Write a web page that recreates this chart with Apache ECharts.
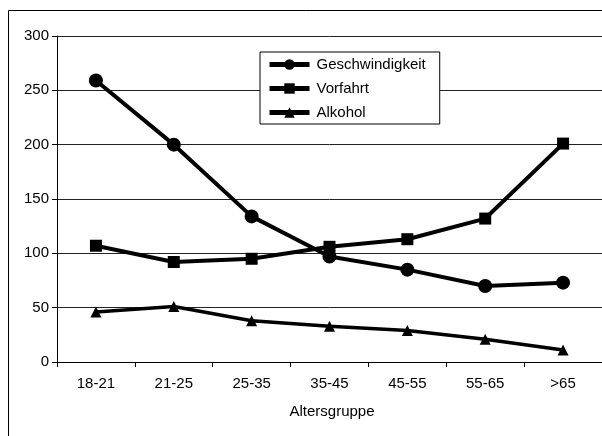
<!DOCTYPE html>
<html>
<head>
<meta charset="utf-8">
<style>
  html, body { margin: 0; padding: 0; background: #fff; }
  #chart { width: 602px; height: 436px; }
</style>
<script src="https://cdn.jsdelivr.net/npm/echarts@6/dist/echarts.min.js"></script>
</head>
<body>
<div id="chart"></div>
<script>
// Unfallursachen nach Altersgruppe
const categories = ['18-21', '21-25', '25-35', '35-45', '45-55', '55-65', '>65'];
const geschwindigkeit = [259, 200, 134, 97, 85, 70, 73];
const vorfahrt = [107, 92, 95, 106, 113, 132, 201];
const alkohol = [46, 51, 38, 33, 29, 21, 11];

const FONT = '"Liberation Sans", Arial, sans-serif';
const FS = 15;

const chart = echarts.init(document.getElementById('chart'), null, { renderer: 'canvas' });

function lineSeries(name, data, symbol, size, width) {
  return {
    name: name,
    type: 'line',
    data: data,
    symbol: symbol,
    symbolSize: size,
    showAllSymbol: true,
    lineStyle: { color: '#000', width: width },
    itemStyle: { color: '#000', borderWidth: 0 },
    emphasis: { disabled: true },
    animation: false
  };
}

chart.setOption({
  animation: false,
  backgroundColor: '#fff',
  textStyle: { fontFamily: FONT, color: '#000' },
  grid: { left: 57, top: 36, width: 555, height: 326, containLabel: false },
  graphic: [{
    type: 'rect',
    shape: { x: 8.5, y: 10.5, width: 700, height: 500 },
    style: { fill: 'none', stroke: '#000', lineWidth: 1 },
    silent: true
  }],
  legend: {
    left: 260,
    top: 52,
    orient: 'vertical',
    itemWidth: 40,
    itemHeight: 13,
    itemGap: 9,
    padding: [5, 14, 4, 7],
    backgroundColor: '#fff',
    borderColor: '#000',
    borderWidth: 1,
    borderRadius: 0,
    lineStyle: { color: '#000', width: 5 },
    itemStyle: { color: '#000', borderWidth: 0 },
    textStyle: { fontFamily: FONT, fontSize: FS, color: '#000', padding: [0, 0, 0, 2] },
    data: ['Geschwindigkeit', 'Vorfahrt', 'Alkohol']
  },
  xAxis: {
    type: 'category',
    data: categories,
    boundaryGap: true,
    name: 'Altersgruppe',
    nameLocation: 'middle',
    nameGap: 42,
    nameTextStyle: { fontFamily: FONT, fontSize: FS, color: '#000', padding: [0, 0, 0, 5] },
    axisLine: { lineStyle: { color: '#000', width: 1 } },
    axisTick: { show: true, length: 5, lineStyle: { color: '#000' } },
    axisLabel: { fontFamily: FONT, fontSize: FS, color: '#000', margin: 14 },
    splitLine: { show: false }
  },
  yAxis: {
    type: 'value',
    min: 0,
    max: 300,
    interval: 50,
    axisLine: { show: true, lineStyle: { color: '#000', width: 1 } },
    axisTick: { show: true, length: 5, lineStyle: { color: '#000' } },
    axisLabel: { fontFamily: FONT, fontSize: FS, color: '#000', margin: 8 },
    splitLine: { show: true, lineStyle: { color: '#222', width: 1 } }
  },
  series: [
    lineSeries('Geschwindigkeit', geschwindigkeit, 'circle', 14, 4),
    lineSeries('Vorfahrt', vorfahrt, 'rect', 12, 4),
    lineSeries('Alkohol', alkohol, 'triangle', 11, 3.5)
  ]
});
</script>
</body>
</html>
